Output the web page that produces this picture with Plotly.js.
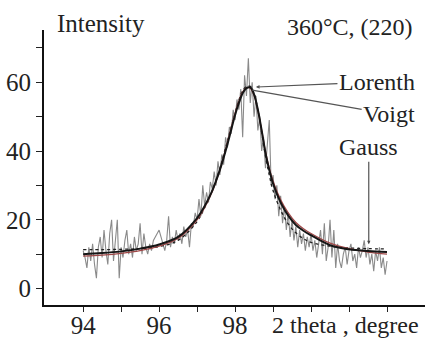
<!DOCTYPE html>
<html><head><meta charset="utf-8">
<script src="https://cdn.plot.ly/plotly-3.0.1.min.js"></script>
<style>html,body{margin:0;padding:0;background:#fff}#chart{width:425px;height:338px}</style>
</head><body><div id="chart"></div>
<script>
// Measured (noisy) intensity, 2theta from 94.00 to 102.00 in 0.05 steps
const dataX = [
94.00,94.05,94.10,94.15,94.20,94.25,94.30,94.35,94.40,94.45,94.50,94.55,94.60,94.65,94.70,94.75,94.80,94.85,94.90,94.95,
95.00,95.05,95.10,95.15,95.20,95.25,95.30,95.35,95.40,95.45,95.50,95.55,95.60,95.65,95.70,95.75,95.80,95.85,95.90,95.95,
96.00,96.05,96.10,96.15,96.20,96.25,96.30,96.35,96.40,96.45,96.50,96.55,96.60,96.65,96.70,96.75,96.80,96.85,96.90,96.95,
97.00,97.05,97.10,97.15,97.20,97.25,97.30,97.35,97.40,97.45,97.50,97.55,97.60,97.65,97.70,97.75,97.80,97.85,97.90,97.95,
98.00,98.05,98.10,98.15,98.20,98.25,98.30,98.35,98.40,98.45,98.50,98.55,98.60,98.65,98.70,98.75,98.80,98.85,98.90,98.95,
99.00,99.05,99.10,99.15,99.20,99.25,99.30,99.35,99.40,99.45,99.50,99.55,99.60,99.65,99.70,99.75,99.80,99.85,99.90,99.95,
100.00,100.05,100.10,100.15,100.20,100.25,100.30,100.35,100.40,100.45,100.50,100.55,100.60,100.65,100.70,100.75,100.80,100.85,100.90,100.95,
101.00,101.05,101.10,101.15,101.20,101.25,101.30,101.35,101.40,101.45,101.50,101.55,101.60,101.65,101.70,101.75,101.80,101.85,101.90,101.95,102.00];
const dataY = [
11,9,6,12,8,13,7,3,12,15,9,17,11,7,16,20,8,14,20,3,
12,9,14,17,10,13,9,15,11,13,19,10,16,12,10,13,11,14,15,16,
17,15,13,11,14,21,12,15,13,17,14,16,13,18,15,17,12,19,18,22,
20,26,21,30,24,28,25,31,29,34,30,37,33,39,36,44,41,47,45,52,
49,55,52,58,44,62,56,67,54,60,50,56,46,50,40,44,35,42,49,30,
33,26,30,21,27,19,24,17,22,15,20,14,18,12,17,13,16,11,15,12,
16,11,14,9,13,17,10,19,8,12,20,9,17,6,13,8,6,10,12,7,
11,13,8,10,6,12,9,11,14,9,12,7,10,5,11,8,12,6,9,4,8];

// Fitted profiles
const fitX = [94,94.5,95,95.5,96,96.5,97,97.2,97.4,97.6,97.8,98.0,98.1,98.2,98.3,98.4,98.5,98.6,98.7,98.8,98.9,99.0,99.2,99.4,99.6,99.8,100,100.5,101,101.5,102];
const voigtY = [10.0,10.3,10.8,11.6,12.8,15.0,20.5,24.0,28.5,34.5,42.0,50.5,54.0,56.8,58.3,58.5,56.5,52.0,46.0,39.5,34.5,30.5,25.0,21.2,18.5,16.8,15.5,12.6,11.4,10.9,10.6];
const lorentzY = [9.4,9.7,10.2,11.0,12.3,14.6,20.0,23.6,28.2,34.5,42.5,51.0,54.5,57.2,58.4,58.3,56.2,51.8,46.0,39.8,35.0,31.2,25.8,22.0,19.2,17.4,16.0,13.2,11.6,10.6,10.0];
const gaussY = [11.3,11.3,11.4,11.6,12.2,14.0,19.5,23.5,28.5,35.0,43.0,51.0,54.8,57.5,58.8,58.8,56.8,52.0,45.5,38.5,33.0,28.5,22.8,18.8,16.2,14.5,13.4,12.3,11.8,11.6,11.5];

const yTickVals = [0,10,20,30,40,50,60,70];
const yTickText = ['0','','20','','40','','60',''];
const xTickVals = [94,95,96,97,98,99,100,101,102];
const xTickText = ['94','','96','','98','','','',''];

const serif = 'Liberation Serif, Times New Roman, serif';
const traces = [
  {x:dataX, y:dataY, mode:'lines', line:{color:'#8a8a8a', width:1.1}, hoverinfo:'skip'},
  {x:fitX, y:gaussY, mode:'lines', line:{color:'#222', width:1.3, dash:'3px,3px', shape:'spline'}},
  {x:fitX, y:lorentzY, mode:'lines', line:{color:'#a04848', width:1.3, shape:'spline'}},
  {x:fitX, y:voigtY, mode:'lines', line:{color:'#151515', width:2, shape:'spline'}}
];
const layout = {
  width:425, height:338, showlegend:false,
  margin:{l:44, r:0, t:30, b:33},
  paper_bgcolor:'#fff', plot_bgcolor:'#fff',
  font:{family:serif, size:24, color:'#222'},
  xaxis:{range:[92.97,103.0], tickmode:'array', tickvals:xTickVals, ticktext:xTickText,
    ticks:'outside', ticklen:5, tickwidth:1, tickcolor:'#222', showgrid:false, zeroline:false,
    ticklabelstandoff:-8,
    showline:true, linewidth:2, linecolor:'#111', tickfont:{family:serif, size:25, color:'#222'}},
  yaxis:{range:[-4.8,75.2], tickmode:'array', tickvals:yTickVals, ticktext:yTickText,
    ticks:'outside', ticklen:6, tickwidth:1, tickcolor:'#222', showgrid:false, zeroline:false,
    showline:true, linewidth:2, linecolor:'#111', tickfont:{family:serif, size:25, color:'#222'}},
  annotations:[
    {xref:'paper', yref:'paper', x:0.029, y:1.022, xanchor:'left', yanchor:'middle', showarrow:false,
      text:'Intensity', font:{family:serif, size:25, color:'#222'}},
    {xref:'paper', yref:'paper', x:0.974, y:1.01, xanchor:'right', yanchor:'middle', showarrow:false,
      text:'360°C, (220)', font:{family:serif, size:24, color:'#222'}},
    {xref:'paper', yref:'paper', x:0.99, y:-0.073, xanchor:'right', yanchor:'middle', showarrow:false,
      text:'2 theta , degree', font:{family:serif, size:24, color:'#222'}},
    {x:98.55, y:58.6, text:'Lorenth', showarrow:true, ax:121, ay:-5, arrowhead:2, arrowsize:0.6,
      arrowwidth:1.2, arrowcolor:'#555', font:{family:serif, size:24, color:'#222'}},
    {x:98.45, y:57.7, text:'Voigt', showarrow:true, ax:137, ay:24, arrowhead:0,
      arrowwidth:1.2, arrowcolor:'#555', font:{family:serif, size:24, color:'#222'}},
    {x:101.52, y:12.9, text:'Gauss', showarrow:true, ax:0, ay:-97, arrowhead:2, arrowsize:0.6,
      arrowwidth:1.1, arrowcolor:'#444', font:{family:serif, size:24, color:'#222'}}
  ]
};
Plotly.newPlot('chart', traces, layout, {displayModeBar:false, staticPlot:true});
</script></body></html>
